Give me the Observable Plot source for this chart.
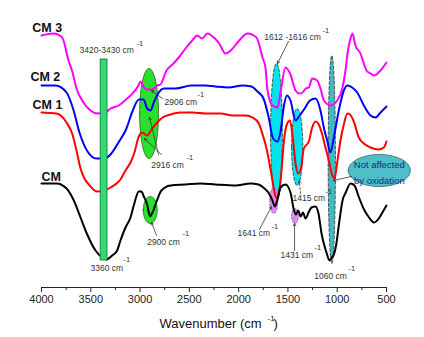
<!DOCTYPE html>
<html><head><meta charset="utf-8">
<script src="https://cdn.jsdelivr.net/npm/d3@7"></script>
<script src="https://cdn.jsdelivr.net/npm/@observablehq/plot@0.6"></script>
<style>body{margin:0;background:#fff;} svg{display:block;}</style>
</head><body><div id="chart"></div>
<script>
// ---- data (wavenumber in cm-1, transmittance in arbitrary offset units) ----
const cm3Wn = [4000,3878,3790,3726,3685,3645,3574,3503,3432,3351,3300,3216,3131,3097,3016,2996,2960,2928,2877,2826,2793,2732,2661,2607,2539,2471,2420,2370,2319,2252,2197,2133,2080,1994,1910,1819,1758,1728,1707,1657,1606,1572,1525,1474,1423,1383,1352,1319,1288,1254,1203,1170,1134,1068,1000,946,916,891,865,845,815,764,734,703,662,622,591,561,500];
const cm3T  = [252,254,250,227,215,199,185,177,174,175,179,182,189,192,202,206,200,198,198,202,203,217,224,230,239,247,252,249,254,250,244,234,237,247,254,250,230,220,197,182,180,197,220,213,197,194,195,199,200,209,207,199,187,182,187,200,217,237,249,254,242,234,225,217,214,212,214,217,225];

const cm2Wn = [4000,3858,3746,3680,3615,3533,3442,3361,3300,3219,3138,3082,3011,2965,2928,2894,2861,2823,2759,2641,2478,2336,2235,2103,1961,1870,1809,1748,1697,1651,1606,1575,1540,1510,1474,1423,1388,1337,1276,1220,1170,1136,1102,1068,1034,984,933,896,848,797,730,662,612,561,500];
const cm2T  = [202,202,195,179,155,136,129,129,133,145,159,175,188,188,179,177,185,193,199,199,202,202,201,200,202,201,196,189,171,149,146,156,182,192,187,167,171,178,187,189,177,160,147,135,150,177,197,202,200,195,182,172,170,175,181];

const cm1Wn = [4000,3848,3746,3689,3645,3604,3564,3520,3435,3361,3300,3199,3148,3097,3057,3013,2976,2928,2884,2826,2772,2691,2590,2468,2336,2184,2062,1930,1859,1795,1748,1717,1687,1657,1636,1609,1586,1565,1540,1507,1479,1451,1423,1396,1367,1339,1288,1254,1220,1187,1152,1119,1085,1053,1027,1000,967,933,896,870,832,781,730,662,578,527,500];
const cm1T  = [175,174,165,154,137,119,109,103,96,97,100,108,117,125,135,151,155,152,158,165,170,173,175,175,174,174,172,172,170,164,150,139,124,107,95,89,97,117,147,164,167,150,124,114,119,139,146,160,166,163,153,140,127,113,109,125,147,163,174,173,166,150,144,140,138,140,146];

const cmWn = [4000,3848,3746,3672,3604,3536,3452,3384,3341,3283,3232,3199,3148,3097,3064,3013,2986,2962,2928,2899,2874,2833,2783,2691,2539,2387,2235,2032,1880,1799,1738,1692,1657,1633,1609,1575,1525,1474,1438,1418,1396,1372,1347,1322,1291,1261,1220,1190,1159,1136,1109,1078,1055,1038,1012,980,946,913,865,825,779,728,677,627,578,530,500];
const cmT  = [104,104,99,87,70,53,37,30,28,32,37,47,60,70,82,96,96,91,83,71,75,86,97,102,103,104,103,102,104,103,99,94,87,81,87,100,103,95,77,73,77,71,75,69,75,80,81,74,54,44,35,27,30,32,42,65,87,95,104,102,90,78,70,65,69,77,82];

const seriesNames = ["CM 3", "CM 2", "CM 1", "CM"];
const majorTicks = [4000,3500,3000,2500,2000,1500,1000,500];
const minorTicks = [3750,3250,2750,2250,1750,1250,750];

// ---- annotation geometry (data units) ----
const ellipses = [
  {cx:1616, cy:156, rx:60, ry:68, fill:"#00e4ee", stroke:"#333", dash:"3,2"},
  {cx:1406, cy:140.5, rx:57, ry:38.5, fill:"#00e4ee", stroke:"#333", dash:"3,2"},
  {cx:1055, cy:128, rx:37, ry:104, fill:"#45b9c1", stroke:"#333", dash:"3,2"},
  {cx:2909, cy:174, rx:96, ry:45, fill:"#2be02b", stroke:"#2a5a2a", dash:null},
  {cx:2897, cy:77.5, rx:71, ry:13.5, fill:"#2be02b", stroke:"#2a5a2a", dash:null},
  {cx:1644, cy:87, rx:42, ry:13, fill:"#dc8cee", stroke:"#8a5a9a", dash:"2,2"},
  {cx:1428, cy:71.5, rx:35, ry:7.5, fill:"#dc8cee", stroke:"#8a5a9a", dash:"2,2"}
];
const noteEllipse = {cx:573, cy:117, rx:315, ry:16, fill:"#4fbec6", stroke:"#2a6a70"};
const bar = [{x1:3400, x2:3330, y1:27, y2:228}];

const peakLabels = [
  {x:3614, y:237, text:"3420-3430 cm", sx:3037, sy:244},
  {x:2752, y:185, text:"2906 cm", sx:2418, sy:193},
  {x:2887, y:122, text:"2916 cm", sx:2529, sy:130},
  {x:2928, y:45, text:"2900 cm", sx:2570, sy:54},
  {x:3503, y:19, text:"3360 cm", sx:3168, sy:28},
  {x:1741, y:250, text:"1612 -1616 cm", sx:1150, sy:257},
  {x:2012, y:54, text:"1641 cm", sx:1667, sy:61},
  {x:1575, y:32, text:"1431 cm", sx:1231, sy:40},
  {x:1454, y:89, text:"1415 cm", sx:1119, sy:96},
  {x:1233, y:11, text:"1060 cm", sx:885, sy:19}
];
const arrows = [
  {x1:2772, y1:189, x2:2884, y2:197, dash:null},
  {x1:2813, y1:133, x2:2904, y2:170, dash:null},
  {x1:2783, y1:133, x2:2955, y2:149, dash:null},
  {x1:2833, y1:52, x2:2884, y2:65, dash:null},
  {x1:1494, y1:246, x2:1606, y2:224, dash:null},
  {x1:1788, y1:58, x2:1667, y2:81, dash:null},
  {x1:1433, y1:37, x2:1433, y2:64, dash:null},
  {x1:1372, y1:94, x2:1383, y2:107, dash:"2,2"},
  {x1:855, y1:111, x2:1038, y2:107, dash:null}
];
const seriesLabels = [
  {x:4094, y:260, text:"CM 3"},
  {x:4112, y:211, text:"CM 2"},
  {x:4091, y:183, text:"CM 1"},
  {x:4000, y:111, text:"CM"}
];
const noteLines = [{x:573, y:123, text:"Not affected"}, {x:573, y:107, text:"by oxidation"}];
const titleParts = [
  {x:2803, y:-36, text:"Wavenumber (cm", size:13},
  {x:1707, y:-31, text:"-1", size:8},
  {x:1646, y:-36, text:")", size:13}
];

function series(wn, t, name) { return wn.map((w, i) => ({wn: w, t: t[i], series: name})); }
function ellipsePts(e) {
  const pts = [];
  for (let i = 0; i <= 72; i++) {
    const a = 2 * Math.PI * i / 72;
    pts.push({wn: e.cx + e.rx * Math.cos(a), t: e.cy + e.ry * Math.sin(a)});
  }
  return pts;
}

const data = [
  ...series(cm3Wn, cm3T, seriesNames[0]),
  ...series(cm2Wn, cm2T, seriesNames[1]),
  ...series(cm1Wn, cm1T, seriesNames[2]),
  ...series(cmWn, cmT, seriesNames[3])
];
const colors = {"CM 3": "#ff00ff", "CM 2": "#0000ff", "CM 1": "#ff0000", "CM": "#000000"};
const FONT = "Liberation Sans, Arial, Helvetica, sans-serif";

const marks = [];
for (const e of ellipses) {
  marks.push(Plot.line(ellipsePts(e), {x: "wn", y: "t", curve: "linear-closed", fill: e.fill, stroke: e.stroke, strokeWidth: 0.8, strokeDasharray: e.dash || undefined}));
}
for (const name of seriesNames) {
  marks.push(Plot.line(data.filter(d => d.series === name), {x: "wn", y: "t", stroke: colors[name], strokeWidth: 2, curve: "monotone-x"}));
}
marks.push(Plot.rect(bar, {x1: "x1", x2: "x2", y1: "y1", y2: "y2", fill: "#2edc72", stroke: "#1d6b3e", strokeWidth: 0.8}));
marks.push(Plot.line(ellipsePts(noteEllipse), {x: "wn", y: "t", curve: "linear-closed", fill: noteEllipse.fill, stroke: noteEllipse.stroke, strokeWidth: 0.8}));
marks.push(Plot.text(noteLines, {x: "x", y: "y", text: "text", fill: "#1a2a8c", fontSize: 9.5, fontFamily: FONT}));
for (const a of arrows) {
  marks.push(Plot.arrow([a], {x1: "x1", y1: "y1", x2: "x2", y2: "y2", stroke: "#333", strokeWidth: 0.8, headLength: 5, strokeDasharray: a.dash || undefined}));
}
marks.push(Plot.text(peakLabels, {x: "x", y: "y", text: "text", textAnchor: "start", fontSize: 8.5, fill: "#333", fontFamily: FONT}));
marks.push(Plot.text(peakLabels, {x: "sx", y: "sy", text: () => "-1", textAnchor: "start", fontSize: 7.5, fill: "#333", fontFamily: FONT}));
marks.push(Plot.text(seriesLabels, {x: "x", y: "y", text: "text", textAnchor: "start", fontSize: 12.5, fontWeight: "bold", fill: "#111", fontFamily: FONT}));
marks.push(Plot.ruleY([0], {stroke: "#222", strokeWidth: 1}));
marks.push(Plot.axisX({ticks: majorTicks, tickSize: 5, tickPadding: 3, tickFormat: d3.format("d"), fontSize: 11, label: null, fontFamily: FONT}));
marks.push(Plot.axisX({ticks: minorTicks, tickSize: 3, tickFormat: () => "", label: null}));
marks.push(Plot.text(titleParts, {x: "x", y: "y", text: "text", fontSize: d => d.size, textAnchor: "start", fill: "#111", fontFamily: FONT}));

const chart = Plot.plot({
  width: 424,
  height: 337,
  marginLeft: 41,
  marginRight: 38,
  marginTop: 0,
  marginBottom: 50,
  style: {fontFamily: FONT, background: "#fff", color: "#222", overflow: "visible"},
  x: {domain: [4000, 500], axis: null},
  y: {domain: [0, 287], axis: null},
  marks
});
document.getElementById("chart").appendChild(chart);
</script>
</body></html>
